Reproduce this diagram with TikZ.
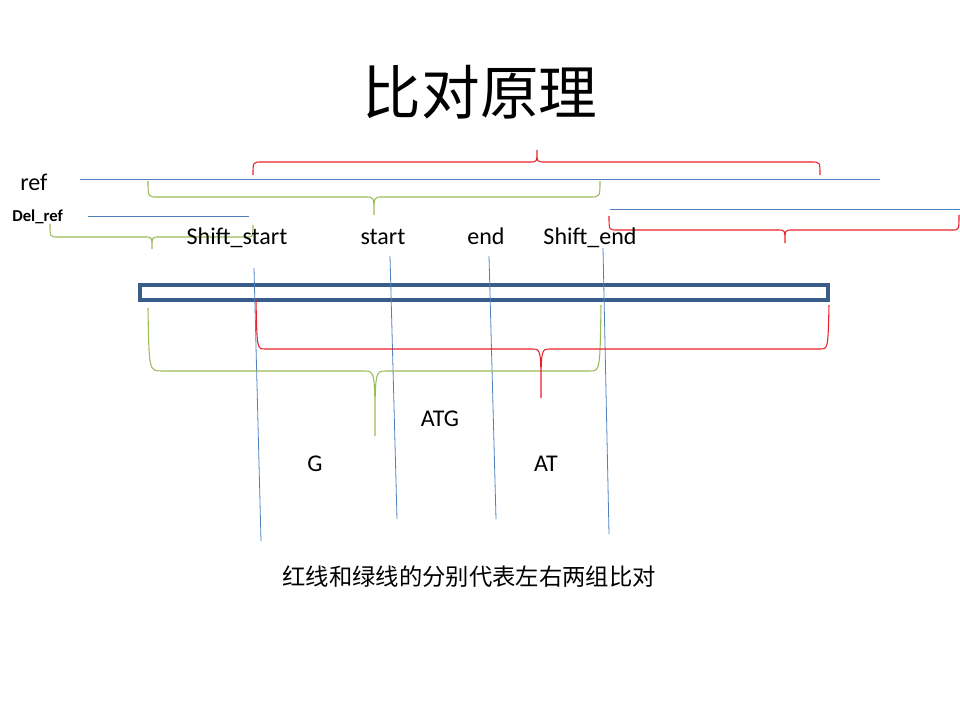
\documentclass[tikz,border=0pt]{standalone}
\usepackage{fontspec}
\setmainfont{Carlito}
\newfontfamily\cjk{Noto Sans CJK SC}
\definecolor{lineblue}{HTML}{4F81BD}
\definecolor{boxblue}{HTML}{385D8A}
\definecolor{bracegreen}{HTML}{9BBB59}
\definecolor{bracered}{HTML}{E8202A}
\tikzset{
  label/.style={font=\fontsize{18}{20}\selectfont, inner sep=0pt, anchor=base},
  seq/.style={lineblue, line width=0.6pt},
  gbrace/.style={bracegreen, line width=0.8pt},
  rbrace/.style={bracered, line width=0.8pt},
}
\begin{document}
\begin{tikzpicture}[x=0.75pt, y=-0.75pt]
    \useasboundingbox (0,0) rectangle (960,720);

    % Title
    \node[font=\cjk\fontsize{44}{48}\selectfont] (title) at (480,92) {比对原理};

    % Reference lines
    \node[label, anchor=base west] (ref) at (20,191) {ref};
    \draw[seq] (80,179) -- (880,179);
    \node[font=\bfseries\fontsize{12.5}{14}\selectfont, inner sep=0pt, anchor=base west] (delref) at (12,222) {Del\_ref};
    \draw[seq] (88,216) -- (249,216);
    \draw[seq] (610,209) -- (960,209);

    % Braces above
    \draw[rbrace] (253,175) .. controls (253,162) .. (262,162) -- (530,162)
        .. controls (537,162) .. (537,150) .. controls (537,162) .. (544,162)
        -- (811,162) .. controls (820,162) .. (820,175);
    \draw[gbrace] (148,181) .. controls (148,197) .. (158,197) -- (366,197)
        .. controls (374,197) .. (374,215) .. controls (374,197) .. (382,197)
        -- (590,197) .. controls (600,197) .. (600,181);
    \draw[gbrace] (50,224) .. controls (50,237) .. (58,237) -- (145,237)
        .. controls (152,237) .. (152,249) .. controls (152,237) .. (159,237)
        -- (247,237) .. controls (253,237) .. (253,225);
    \draw[rbrace] (609,216) .. controls (609,230) .. (617,230) -- (778,230)
        .. controls (785,230) .. (785,243) .. controls (785,230) .. (792,230)
        -- (952,230) .. controls (959,230) .. (959,215);

    % Position labels
    \node[label] (sstart) at (237,245) {Shift\_start};
    \node[label] (start) at (383,245) {start};
    \node[label] (end) at (486,245) {end};
    \node[label] (send) at (590,245) {Shift\_end};

    % Read
    \draw[boxblue, line width=2.3pt] (140,285) rectangle (828,300);

    % Cut lines
    \draw[seq] (254,268) -- (261,541);
    \draw[seq] (390,256) -- (397,519);
    \draw[seq] (489,256) -- (496,519);
    \draw[seq] (603,248) -- (609,534);

    % Braces below
    \draw[gbrace] (148,308) .. controls (149,371) .. (162,371) -- (364,371)
        .. controls (375,371) .. (375,436) .. controls (375,371) .. (386,371)
        -- (590,371) .. controls (600,371) .. (601,305);
    \draw[rbrace] (256,300) .. controls (257,349) .. (265,349) -- (532,349)
        .. controls (541,349) .. (541,398) .. controls (541,349) .. (550,349)
        -- (820,349) .. controls (828,349) .. (829,305);

    % Bases
    \node[label] (atg) at (440,426) {ATG};
    \node[label] (g) at (315,471) {G};
    \node[label] (at) at (546,471) {AT};

    % Note
    \node[font=\cjk\fontsize{17.5}{20}\selectfont] (note) at (469,577) {红线和绿线的分别代表左右两组比对};
\end{tikzpicture}
\end{document}
